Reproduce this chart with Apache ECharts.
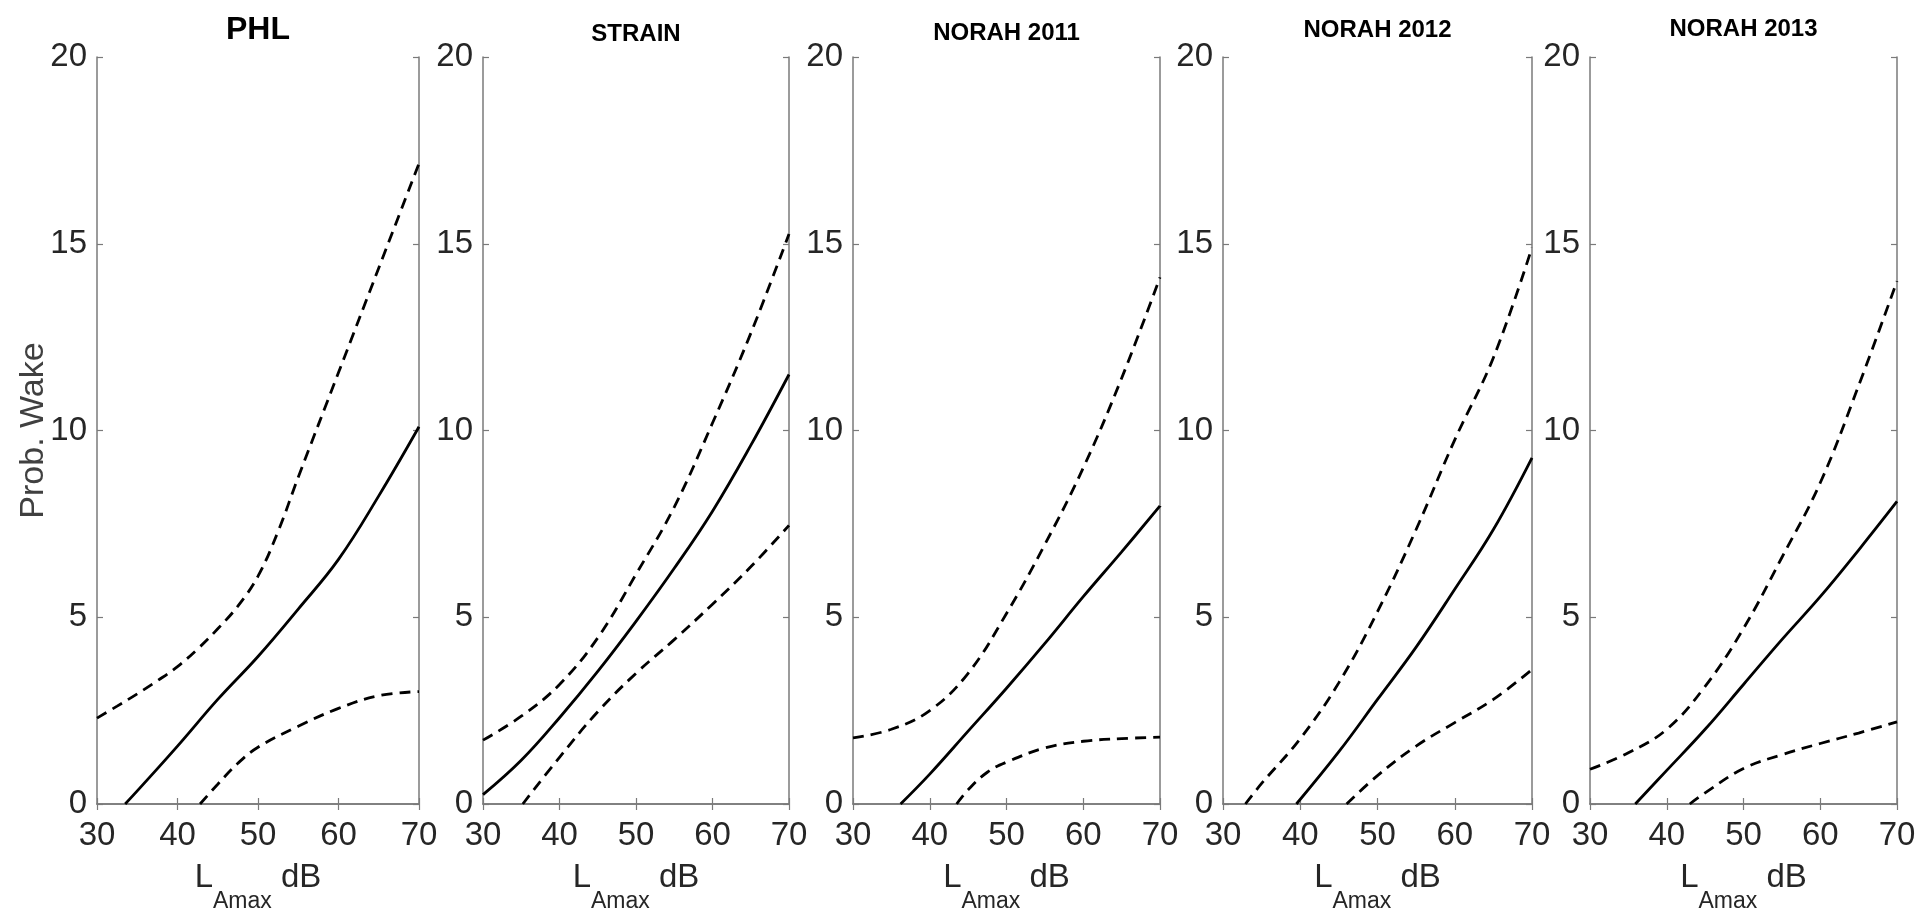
<!DOCTYPE html>
<html><head><meta charset="utf-8">
<script src="https://cdn.jsdelivr.net/npm/echarts@6/dist/echarts.min.js"></script>
<style>html,body{margin:0;padding:0;background:#fff}#c{width:1915px;height:918px}</style>
</head><body><div id="c"></div>
<script>
// ---- data (dB, probability of awakening %) ----
const panelTitles = ['PHL', 'STRAIN', 'NORAH 2011', 'NORAH 2012', 'NORAH 2013'];
const xTickValues = [30, 40, 50, 60, 70];
const yTickValues = [0, 5, 10, 15, 20];
const yAxisTitle = 'Prob. Wake';

const phlMid   = [[33.5,0],[35,0.35],[40,1.55],[45,2.8],[50,3.95],[55,5.22],[60,6.55],[65,8.25],[70,10.1]];
const phlUpper = [[30,2.3],[32.5,2.62],[35,2.95],[37.5,3.3],[40,3.68],[42.5,4.15],[45,4.69],[47.5,5.3],[50,6.1],[52.5,7.3],[55,8.75],[60,11.55],[65,14.35],[70,17.15]];
const phlLower = [[42.8,0],[45,0.53],[47.5,1.09],[50,1.52],[55,2.08],[60,2.56],[65,2.9],[70,3.01]];

const strainMid   = [[30,0.25],[35,1.17],[40,2.31],[45,3.55],[50,4.89],[55,6.31],[60,7.84],[65,9.6],[70,11.5]];
const strainUpper = [[30,1.71],[35,2.35],[40,3.2],[45,4.45],[50,6.15],[55,7.95],[60,10.2],[65,12.6],[70,15.26]];
const strainLower = [[35.2,0],[40,1.25],[45,2.47],[50,3.5],[55,4.4],[60,5.35],[65,6.35],[70,7.46]];

const n11Mid   = [[36.2,0],[40,0.8],[45,1.95],[50,3.1],[55,4.3],[60,5.55],[65,6.75],[70,7.98]];
const n11Upper = [[30,1.77],[35,2.0],[40,2.5],[45,3.5],[50,5.1],[55,6.95],[60,9.0],[65,11.4],[70,14.1]];
const n11Lower = [[43.5,0],[45,0.38],[47.5,0.85],[50,1.12],[55,1.5],[60,1.68],[65,1.75],[70,1.79]];

const n12Mid   = [[39.5,0],[45,1.4],[50,2.8],[55,4.2],[60,5.75],[65,7.35],[70,9.27]];
const n12Upper = [[32.9,0],[35,0.55],[40,1.75],[45,3.25],[50,5.15],[55,7.35],[60,9.75],[65,11.95],[70,14.9]];
const n12Lower = [[46.0,0],[50,0.76],[55,1.55],[60,2.18],[65,2.8],[70,3.6]];

const n13Mid   = [[35.9,0],[40,0.9],[45,2.0],[50,3.2],[55,4.4],[60,5.55],[65,6.8],[70,8.1]];
const n13Upper = [[30,0.93],[35,1.37],[40,2.0],[45,3.15],[50,4.7],[55,6.6],[60,8.6],[65,11.2],[70,14.0]];
const n13Lower = [[43.0,0],[45,0.3],[50,0.95],[55,1.32],[60,1.62],[65,1.9],[70,2.2]];

const panelSeries = [
  [phlUpper, phlMid, phlLower],
  [strainUpper, strainMid, strainLower],
  [n11Upper, n11Mid, n11Lower],
  [n12Upper, n12Mid, n12Lower],
  [n13Upper, n13Mid, n13Lower]
];

// ---- layout / style ----
const gridBoxes = [
  {left: 97, width: 322},
  {left: 483, width: 306},
  {left: 853, width: 307},
  {left: 1223, width: 309},
  {left: 1590, width: 307}
];
const TOP = 57, HEIGHT = 747;
const SANS = "'Liberation Sans', Arial, Helvetica, sans-serif";
const AXIS_COLOR = '#7a7a7a';
const TEXT_COLOR = '#262626';
const titleSizes = [32, 24, 24, 24, 24];
const titleGaps = [11, 11, 11.5, 14.5, 16];

const grid = [], xAxis = [], yAxis = [], series = [];
gridBoxes.forEach((g, i) => {
  grid.push({left: g.left, width: g.width, top: TOP, height: HEIGHT, containLabel: false, outerBoundsMode: 'none'});
  const tickStyle = {show: true, inside: true, length: 6, lineStyle: {color: AXIS_COLOR, width: 1.2}};
  const lineStyle = {show: true, lineStyle: {color: AXIS_COLOR, width: 1.5}};
  xAxis.push({
    gridIndex: i, type: 'value', position: 'bottom', min: xTickValues[0], max: xTickValues[xTickValues.length - 1],
    interval: xTickValues[1] - xTickValues[0],
    axisLine: lineStyle, axisTick: tickStyle, splitLine: {show: false},
    axisLabel: {fontFamily: SANS, fontSize: 33, color: TEXT_COLOR, margin: 15,
      formatter: v => xTickValues.includes(v) ? String(v) : ''},
    name: '{l|L}{s|Amax}{d| dB}', nameLocation: 'middle', nameGap: 57, nameMoveOverlap: false,
    nameTextStyle: {
      rich: {
        l: {fontFamily: SANS, fontSize: 33, color: TEXT_COLOR, verticalAlign: 'top', lineHeight: 36},
        s: {fontFamily: SANS, fontSize: 23, color: TEXT_COLOR, verticalAlign: 'bottom', lineHeight: 52},
        d: {fontFamily: SANS, fontSize: 33, color: TEXT_COLOR, verticalAlign: 'top', lineHeight: 36}
      }
    }
  });
  xAxis.push({
    gridIndex: i, type: 'value', position: 'top', min: xTickValues[0], max: xTickValues[xTickValues.length - 1],
    interval: xTickValues[1] - xTickValues[0],
    axisLine: lineStyle, axisTick: tickStyle, splitLine: {show: false}, axisLabel: {show: false},
    name: panelTitles[i], nameLocation: 'middle', nameGap: titleGaps[i],
    nameTextStyle: {fontFamily: SANS, fontWeight: 'bold', fontSize: titleSizes[i], color: '#000'}
  });
  const yl = {
    gridIndex: i, type: 'value', position: 'left', min: yTickValues[0], max: yTickValues[yTickValues.length - 1],
    interval: yTickValues[1] - yTickValues[0],
    axisLine: lineStyle, axisTick: tickStyle, splitLine: {show: false},
    axisLabel: {fontFamily: SANS, fontSize: 33, color: TEXT_COLOR, margin: 10,
      formatter: v => yTickValues.includes(v) ? String(v) : ''}
  };
  if (i === 0) {
    yl.name = yAxisTitle; yl.nameLocation = 'middle'; yl.nameGap = 46; yl.nameRotate = 90;
    yl.nameMoveOverlap = false;
    yl.nameTextStyle = {fontFamily: SANS, fontSize: 34, color: '#404040'};
  }
  yAxis.push(yl);
  yAxis.push({
    gridIndex: i, type: 'value', position: 'right', min: yTickValues[0], max: yTickValues[yTickValues.length - 1],
    interval: yTickValues[1] - yTickValues[0],
    axisLine: lineStyle, axisTick: tickStyle, splitLine: {show: false}, axisLabel: {show: false}
  });
  const [up, mid, low] = panelSeries[i];
  const common = {type: 'line', xAxisIndex: 2 * i, yAxisIndex: 2 * i, showSymbol: false, symbol: 'none',
    smooth: 0.4, silent: true, z: 3};
  series.push(Object.assign({}, common, {name: panelTitles[i] + ' upper', data: up,
    lineStyle: {color: '#000', width: 2.8, type: [11, 7], cap: 'butt'}}));
  series.push(Object.assign({}, common, {name: panelTitles[i] + ' mean', data: mid,
    lineStyle: {color: '#000', width: 2.8, type: 'solid'}}));
  series.push(Object.assign({}, common, {name: panelTitles[i] + ' lower', data: low,
    lineStyle: {color: '#000', width: 2.8, type: [11, 7], cap: 'butt'}}));
});

const chart = echarts.init(document.getElementById('c'), null, {renderer: 'canvas'});
chart.setOption({animation: false, backgroundColor: '#fff', grid, xAxis, yAxis, series});
</script>
</body></html>
